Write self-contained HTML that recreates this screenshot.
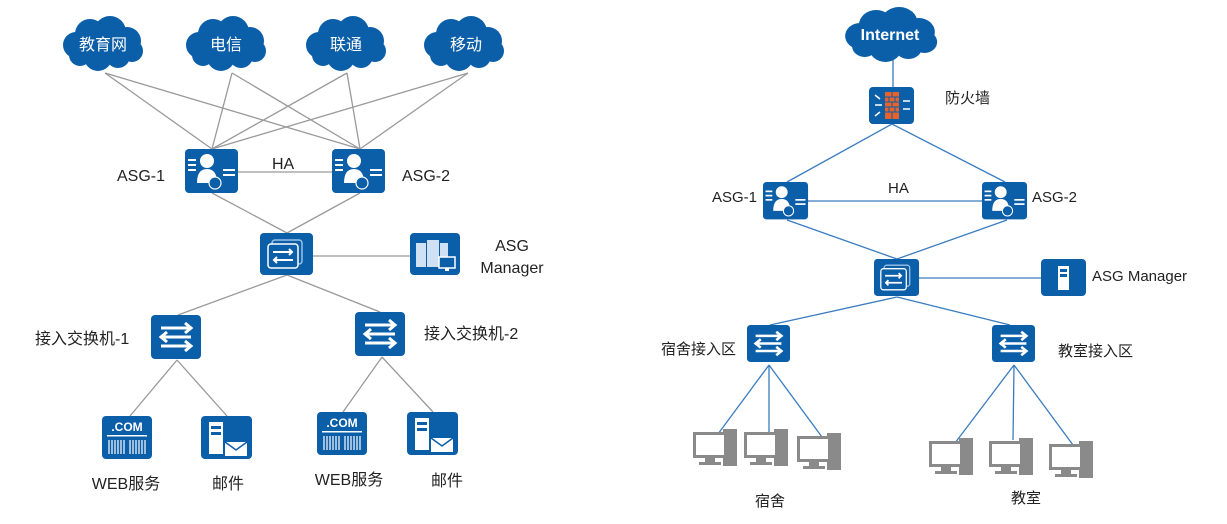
<!DOCTYPE html>
<html><head><meta charset="utf-8"><style>
html,body{margin:0;padding:0;background:#fff;}
svg{display:block;font-family:"Liberation Sans","Noto Sans CJK SC",sans-serif;}
</style></head><body>
<svg width="1227" height="524" viewBox="0 0 1227 524" xmlns="http://www.w3.org/2000/svg">
<defs>
<g id="cloud" fill="#0b5ea8">
 <ellipse cx="0" cy="4" rx="38" ry="17"/>
 <circle cx="-26" cy="2" r="13"/>
 <circle cx="-12" cy="-9" r="15"/>
 <circle cx="8" cy="-11" r="16"/>
 <circle cx="25" cy="-2" r="14"/>
 <circle cx="30" cy="8" r="11"/>
 <circle cx="-4" cy="14" r="14"/>
 <circle cx="16" cy="13" r="12"/>
 <circle cx="-22" cy="12" r="11"/>
</g>
<g id="sw">
 <rect x="0" y="0" width="50" height="44" rx="4" fill="#0b5ea8"/>
 <g stroke="#fff" stroke-width="3" fill="none">
  <path d="M10 13H40M34 8L40 13L34 18"/>
  <path d="M40 22H10M16 17L10 22L16 27"/>
  <path d="M10 31H40M34 26L40 31L34 36"/>
 </g>
</g>
<g id="core">
 <rect x="0" y="0" width="53" height="42" rx="4" fill="#0b5ea8"/>
 <rect x="12" y="7" width="30" height="24" rx="3" fill="none" stroke="#9cc2e6" stroke-width="1.5"/>
 <rect x="8" y="11" width="30" height="24" rx="3" fill="#0b5ea8" stroke="#fff" stroke-width="1.5"/>
 <g stroke="#fff" stroke-width="2" fill="none"><path d="M13 19H32M29 16L32 19L29 22"/><path d="M33 27H14M17 24L14 27L17 30"/></g>
</g>
<g id="asg">
 <rect x="0" y="0" width="53" height="44" rx="4" fill="#0b5ea8"/>
 <g fill="#fff">
  <circle cx="22" cy="12" r="7"/>
  <path d="M12 34Q12 20 22 20Q32 20 32 34Z"/>
  <rect x="3" y="10" width="8" height="2"/><rect x="3" y="15" width="8" height="2"/><rect x="3" y="20" width="8" height="2"/>
  <rect x="38" y="20" width="12" height="2"/><rect x="38" y="25" width="12" height="2"/>
 </g>
 <circle cx="30" cy="34" r="6" fill="#0b5ea8" stroke="#fff" stroke-width="1.2"/>
</g>
<g id="web">
 <rect x="0" y="0" width="50" height="43" rx="4" fill="#0b5ea8"/>
 <text x="25" y="15" font-size="12" font-weight="bold" fill="#fff" text-anchor="middle">.COM</text>
 <rect x="5" y="19" width="40" height="1.5" fill="#fff"/>
 <g stroke="#fff" stroke-width="1.2"><path d="M7 24V38M10 24V38M13 24V38M16 24V38M19 24V38M22 24V38M28 24V38M31 24V38M34 24V38M37 24V38M40 24V38M43 24V38"/></g>
</g>
<g id="mail">
 <rect x="0" y="0" width="51" height="43" rx="4" fill="#0b5ea8"/>
 <rect x="8" y="6" width="14" height="32" fill="#fff"/>
 <rect x="10" y="10" width="10" height="3" fill="#0b5ea8"/><rect x="10" y="16" width="10" height="3" fill="#0b5ea8"/>
 <rect x="24" y="26" width="22" height="14" fill="#fff"/>
 <path d="M24 26L35 34L46 26" stroke="#0b5ea8" stroke-width="1.5" fill="none"/>
</g>
<g id="mgr">
 <rect x="0" y="0" width="50" height="42" rx="4" fill="#0b5ea8"/>
 <g fill="#cfe1f3"><rect x="6" y="10" width="10" height="24"/><rect x="17" y="7" width="12" height="27"/><rect x="30" y="10" width="8" height="16"/></g>
 <rect x="29" y="24" width="16" height="11" fill="#0b5ea8" stroke="#fff" stroke-width="1.5"/>
 <rect x="35" y="35" width="4" height="3" fill="#fff"/>
</g>
<g id="mgr2">
 <rect x="0" y="0" width="45" height="37" rx="4" fill="#0b5ea8"/>
 <rect x="17" y="7" width="11" height="24" fill="#fff"/>
 <rect x="19" y="10" width="7" height="3" fill="#0b5ea8"/><rect x="19" y="15" width="7" height="3" fill="#0b5ea8"/>
</g>
<g id="fw">
 <rect x="0" y="0" width="45" height="37" rx="4" fill="#0b5ea8"/>
 <g fill="#e8632b"><rect x="16" y="5" width="14" height="27"/></g>
 <g stroke="#0b5ea8" stroke-width="1"><path d="M16 10H30M16 15H30M16 20H30M16 25H30M23 5V10M20 10V15M26 10V15M23 15V20M20 20V25M26 20V25M23 25V32"/></g>
 <g stroke="#fff" stroke-width="1.5" fill="none"><path d="M6 18H13M34 14H41M34 22H41M6 8L11 12M6 29L11 25"/></g>
</g>
<g id="pc">
 <rect x="30" y="0" width="14" height="37" fill="#8a8a8a"/>
 <rect x="0" y="3" width="34" height="26" fill="#8a8a8a"/>
 <rect x="3" y="6" width="28" height="20" fill="#fff"/>
 <rect x="12" y="29" width="10" height="4" fill="#8a8a8a"/>
 <rect x="6" y="33" width="22" height="3" fill="#8a8a8a"/>
</g>
</defs>

<!-- LEFT -->
<g stroke="#9a9a9a" stroke-width="1.3">
 <line x1="105" y1="73" x2="212" y2="149"/><line x1="105" y1="73" x2="360" y2="149"/>
 <line x1="232" y1="73" x2="212" y2="149"/><line x1="232" y1="73" x2="360" y2="149"/>
 <line x1="347" y1="73" x2="212" y2="149"/><line x1="347" y1="73" x2="360" y2="149"/>
 <line x1="468" y1="73" x2="212" y2="149"/><line x1="468" y1="73" x2="360" y2="149"/>
 <line x1="238" y1="172" x2="332" y2="172"/>
 <line x1="212" y1="193" x2="287" y2="233"/><line x1="360" y1="193" x2="287" y2="233"/>
 <line x1="313" y1="256" x2="410" y2="256"/>
 <line x1="287" y1="275" x2="178" y2="315"/><line x1="287" y1="275" x2="380" y2="312"/>
 <line x1="177" y1="360" x2="130" y2="416"/><line x1="177" y1="360" x2="227" y2="416"/>
 <line x1="382" y1="357" x2="343" y2="412"/><line x1="382" y1="357" x2="433" y2="412"/>
</g>
<use href="#cloud" x="102" y="43"/><use href="#cloud" x="225" y="43"/><use href="#cloud" x="345" y="43"/><use href="#cloud" x="463" y="43"/>
<g fill="#fff" font-size="16" text-anchor="middle">
 <text x="103" y="50">教育网</text><text x="226" y="50">电信</text><text x="346" y="50">联通</text><text x="466" y="50">移动</text>
</g>
<use href="#asg" x="185" y="149"/><use href="#asg" x="332" y="149"/>
<use href="#core" x="260" y="233"/><use href="#mgr" x="410" y="233"/>
<use href="#sw" x="151" y="315"/><use href="#sw" x="355" y="312"/>
<use href="#web" x="102" y="416"/><use href="#mail" x="201" y="416"/>
<use href="#web" x="317" y="412"/><use href="#mail" x="407" y="412"/>
<g fill="#222" font-size="16">
 <text x="117" y="181">ASG-1</text><text x="402" y="181">ASG-2</text><text x="272" y="169">HA</text>
 <text x="512" y="251" text-anchor="middle">ASG</text><text x="512" y="273" text-anchor="middle">Manager</text>
 <text x="35" y="344">接入交换机-1</text><text x="424" y="339">接入交换机-2</text>
 <text x="126" y="489" text-anchor="middle">WEB服务</text><text x="228" y="489" text-anchor="middle">邮件</text>
 <text x="349" y="485" text-anchor="middle">WEB服务</text><text x="447" y="486" text-anchor="middle">邮件</text>
</g>

<!-- RIGHT -->
<g stroke="#3a7cc0" stroke-width="1.3">
 <line x1="893" y1="60" x2="893" y2="87"/>
 <line x1="892" y1="124" x2="787" y2="182"/><line x1="892" y1="124" x2="1005" y2="182"/>
 <line x1="808" y1="201" x2="982" y2="201"/>
 <line x1="787" y1="220" x2="897" y2="259"/><line x1="1007" y1="220" x2="897" y2="259"/>
 <line x1="919" y1="278" x2="1041" y2="278"/>
 <line x1="897" y1="297" x2="770" y2="325"/><line x1="897" y1="297" x2="1010" y2="325"/>
 <line x1="769" y1="365" x2="718" y2="434"/><line x1="769" y1="365" x2="769" y2="434"/><line x1="769" y1="365" x2="822" y2="437"/>
 <line x1="1014" y1="365" x2="955" y2="443"/><line x1="1014" y1="365" x2="1013" y2="440"/><line x1="1014" y1="365" x2="1073" y2="445"/>
</g>
<g transform="translate(890,34) scale(1.15,1.0)"><use href="#cloud"/></g>
<text x="890" y="40" fill="#fff" font-size="16" font-weight="bold" text-anchor="middle">Internet</text>
<use href="#fw" x="869" y="87"/>
<g transform="translate(763,182) scale(0.85)"><use href="#asg"/></g>
<g transform="translate(982,182) scale(0.85)"><use href="#asg"/></g>
<g transform="translate(874,259) scale(0.85,0.88)"><use href="#core"/></g>
<use href="#mgr2" x="1041" y="259"/>
<g transform="translate(747,325) scale(0.86,0.84)"><use href="#sw"/></g>
<g transform="translate(992,325) scale(0.86,0.84)"><use href="#sw"/></g>
<use href="#pc" x="693" y="429"/><use href="#pc" x="744" y="429"/><use href="#pc" x="797" y="433"/>
<use href="#pc" x="929" y="438"/><use href="#pc" x="989" y="438"/><use href="#pc" x="1049" y="441"/>
<g fill="#222" font-size="15">
 <text x="945" y="103">防火墙</text>
 <text x="712" y="202">ASG-1</text><text x="1032" y="202">ASG-2</text><text x="888" y="193">HA</text>
 <text x="1092" y="281">ASG Manager</text>
 <text x="661" y="354">宿舍接入区</text><text x="1058" y="356">教室接入区</text>
 <text x="770" y="506" text-anchor="middle">宿舍</text><text x="1026" y="503" text-anchor="middle">教室</text>
</g>
</svg>
</body></html>
